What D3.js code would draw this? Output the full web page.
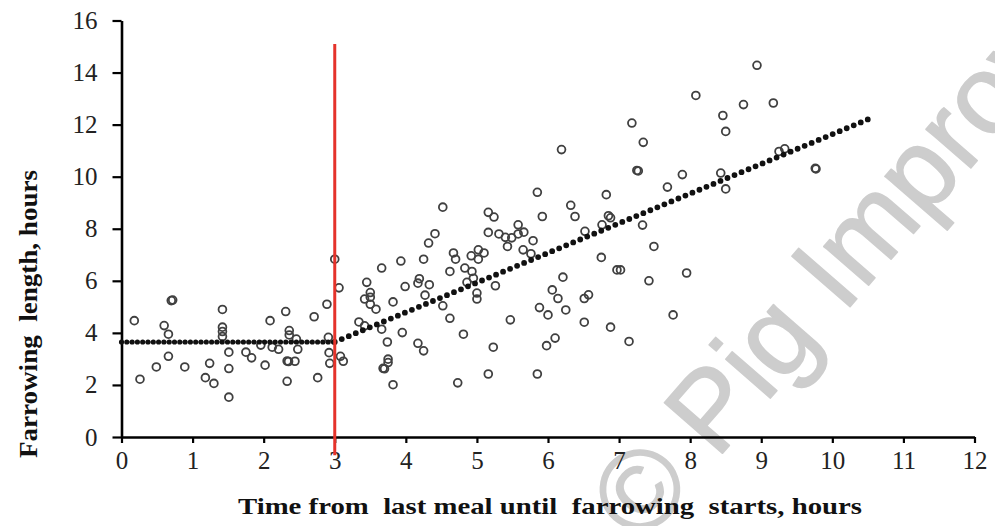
<!DOCTYPE html>
<html lang="en">
<head>
    <meta charset="UTF-8">
    <title>Farrowing length vs time from last meal</title>
    <script src="https://d3js.org/d3.v7.min.js"></script>
    <style>
        body { margin: 0; background: #fff; }
        svg text { white-space: pre; }
        .serif { font-family: "Liberation Serif", "Times New Roman", Times, serif; }
    </style>
</head>
<body>
    <div id="chart"></div>
    <script>
        // observed sows: hours since last meal (x) and farrowing length (y)
        const obsX = [
            0.18, 0.26, 0.70, 0.72, 0.60, 0.66, 0.66, 0.49, 0.89, 1.42, 1.42, 1.42, 1.42,
            1.51, 1.51, 1.51, 1.24, 1.18, 1.30, 1.75, 1.83, 2.02, 1.96, 2.09, 2.12, 2.21,
            2.31, 2.36, 2.36, 2.33, 2.35, 2.33, 2.44, 2.48, 2.46, 2.71, 2.76, 2.89, 2.91,
            2.92, 2.93,
            3.00, 3.06, 3.08, 3.12, 3.45, 3.50, 3.50, 3.42, 3.50, 3.58, 3.66, 3.82, 3.34,
            3.42, 3.66, 3.95, 3.74, 3.75, 3.75, 3.68, 3.70, 3.82, 3.93, 3.99, 4.17, 4.25,
            4.19, 4.17, 4.33, 4.27, 4.25, 4.32, 4.41, 4.52, 4.52, 4.62, 4.62, 4.67, 4.70,
            4.73, 4.81, 4.83, 4.86, 4.92, 4.93, 4.95, 5.00, 5.00, 5.02, 5.02, 5.10, 5.16,
            5.16, 5.16, 5.23, 5.24, 5.26, 5.31, 5.40, 5.43, 5.47, 5.49, 5.58, 5.58, 5.65,
            5.66, 5.76, 5.79, 5.85, 5.85, 5.88, 5.92, 5.98, 6.00, 6.06, 6.10, 6.14, 6.19,
            6.21, 6.25, 6.32, 6.38, 6.51, 6.57, 6.51, 6.52, 6.75, 6.76, 6.82, 6.85, 6.88,
            6.88, 6.97, 7.02, 7.14, 7.18, 7.25, 7.27, 7.33, 7.34, 7.42, 7.49, 7.68, 7.76,
            7.89, 7.95, 8.08, 8.43, 8.46, 8.50, 8.50, 8.75, 8.94, 9.17, 9.25, 9.33, 9.76,
            9.77
        ];
        const obsY = [
            4.47, 2.22, 5.24, 5.26, 4.28, 3.95, 3.10, 2.69, 2.69, 4.90, 4.22, 4.05, 3.86,
            3.26, 2.63, 1.53, 2.83, 2.28, 2.06, 3.26, 3.04, 2.76, 3.53, 4.47, 3.45, 3.37,
            4.82, 4.09, 3.92, 2.92, 2.90, 2.14, 2.91, 3.37, 3.76, 4.62, 2.28, 5.10, 3.83,
            3.24, 2.83,
            6.83, 5.73, 3.10, 2.91, 5.94, 5.55, 5.37, 5.30, 5.10, 4.91, 6.49, 5.19, 4.42,
            4.27, 4.14, 4.01, 3.65, 2.99, 2.86, 2.64, 2.62, 2.01, 6.76, 5.78, 3.60, 3.31,
            6.08, 5.91, 5.85, 5.45, 6.83, 7.45, 7.81, 8.83, 5.04, 4.56, 6.36, 7.07, 6.83,
            2.08, 3.95, 6.49, 5.94, 6.96, 6.36, 6.10, 5.53, 5.30, 7.19, 6.83, 7.07, 8.63,
            7.86, 2.42, 3.45, 8.45, 5.81, 7.80, 7.67, 7.32, 4.50, 7.65, 8.15, 7.80, 7.19,
            7.87, 7.04, 7.54, 9.40, 2.42, 4.97, 8.47, 3.51, 4.69, 5.65, 3.80, 5.32, 11.04,
            6.14, 4.88, 8.90, 8.47, 5.32, 5.46, 4.41, 7.90, 6.90, 8.15, 9.31, 8.50, 8.42,
            4.22, 6.42, 6.42, 3.67, 12.06, 10.24, 10.22, 8.14, 11.32, 6.00, 7.32, 9.60, 4.69,
            10.08, 6.30, 13.12, 10.14, 12.35, 11.74, 9.53, 12.77, 14.28, 12.83, 10.97, 11.07, 10.32,
            10.30
        ];

        // broken-line fit: flat until the breakpoint, then rising
        const fitX = [0, 3, 10.5];
        const fitY = [3.65, 3.65, 12.2];
        const breakPoint = 3;

        const xTicks = [0, 1, 2, 3, 4, 5, 6, 7, 8, 9, 10, 11, 12];
        const yTicks = [0, 2, 4, 6, 8, 10, 12, 14, 16];

        const width = 995;
        const height = 526;

        const x = d3.scaleLinear().domain([0, 12]).range([121.5, 974.5]);
        const y = d3.scaleLinear().domain([0, 16]).range([437, 20.5]);

        const svg = d3.select("#chart")
            .append("svg")
            .attr("width", width)
            .attr("height", height);

        // watermark
        svg.append("text")
            .attr("transform", "translate(642,546) rotate(-49)")
            .style("font-family", "'Liberation Sans', Arial, sans-serif")
            .style("font-size", "112px")
            .attr("fill", "#cdcdcd")
            .attr("stroke", "#cdcdcd")
            .attr("stroke-width", 1.5)
            .attr("stroke-linejoin", "round")
            .text("\u00a9 Pig Improvement");

        // axes
        const yAxis = svg.append("g")
            .attr("transform", `translate(${x(0)},0)`)
            .call(d3.axisLeft(y).tickValues(yTicks).tickSize(9).tickSizeOuter(0).tickPadding(15));

        const xAxis = svg.append("g")
            .attr("transform", `translate(0,${y(0)})`)
            .call(d3.axisBottom(x).tickValues(xTicks).tickSize(6).tickSizeOuter(0).tickPadding(8));

        [xAxis, yAxis].forEach(g => {
            g.attr("font-family", null);
            g.select(".domain").attr("stroke", "#000").attr("stroke-width", 2.6);
            g.selectAll(".tick line").attr("stroke", "#000").attr("stroke-width", 2.2);
            g.selectAll(".tick text")
                .attr("class", "serif")
                .attr("fill", "#222")
                .style("font-size", "25px");
        });

        // observations: open circles
        svg.append("g")
            .selectAll("circle")
            .data(obsX.map((d, i) => [d, obsY[i]]))
            .enter()
            .append("circle")
            .attr("cx", d => x(d[0]))
            .attr("cy", d => y(d[1]))
            .attr("r", 3.9)
            .attr("fill", "none")
            .attr("stroke", "#404040")
            .attr("stroke-width", 1.8);

        // fitted line drawn as a row of dots
        const fitPts = fitX.map((d, i) => [d, fitY[i]]);
        for (let i = 0; i < fitPts.length - 1; i++) {
            svg.append("path")
                .attr("d", d3.line().x(d => x(d[0])).y(d => y(d[1]))([fitPts[i], fitPts[i + 1]]))
                .attr("fill", "none")
                .attr("stroke", "#111")
                .attr("stroke-width", i === 0 ? 5.2 : 5.8)
                .attr("stroke-linecap", "round")
                .attr("stroke-dasharray", i === 0 ? "0 5.3" : "0 7.6");
        }

        // breakpoint marker
        svg.append("line")
            .attr("x1", x(breakPoint))
            .attr("x2", x(breakPoint))
            .attr("y1", y(15.1))
            .attr("y2", y(-0.7))
            .attr("stroke", "#e5332b")
            .attr("stroke-width", 3);

        // axis titles
        svg.append("text")
            .attr("class", "serif")
            .attr("x", 550)
            .attr("y", 514)
            .attr("text-anchor", "middle")
            .attr("textLength", 624)
            .attr("lengthAdjust", "spacingAndGlyphs")
            .style("font-weight", "bold")
            .style("font-size", "24px")
            .attr("fill", "#111")
            .text("Time from  last meal until  farrowing  starts, hours");

        svg.append("text")
            .attr("class", "serif")
            .attr("transform", "translate(37,314) rotate(-90)")
            .attr("text-anchor", "middle")
            .attr("textLength", 288)
            .attr("lengthAdjust", "spacingAndGlyphs")
            .style("font-weight", "bold")
            .style("font-size", "25px")
            .attr("fill", "#111")
            .text("Farrowing  length, hours");
    </script>
</body>
</html>
